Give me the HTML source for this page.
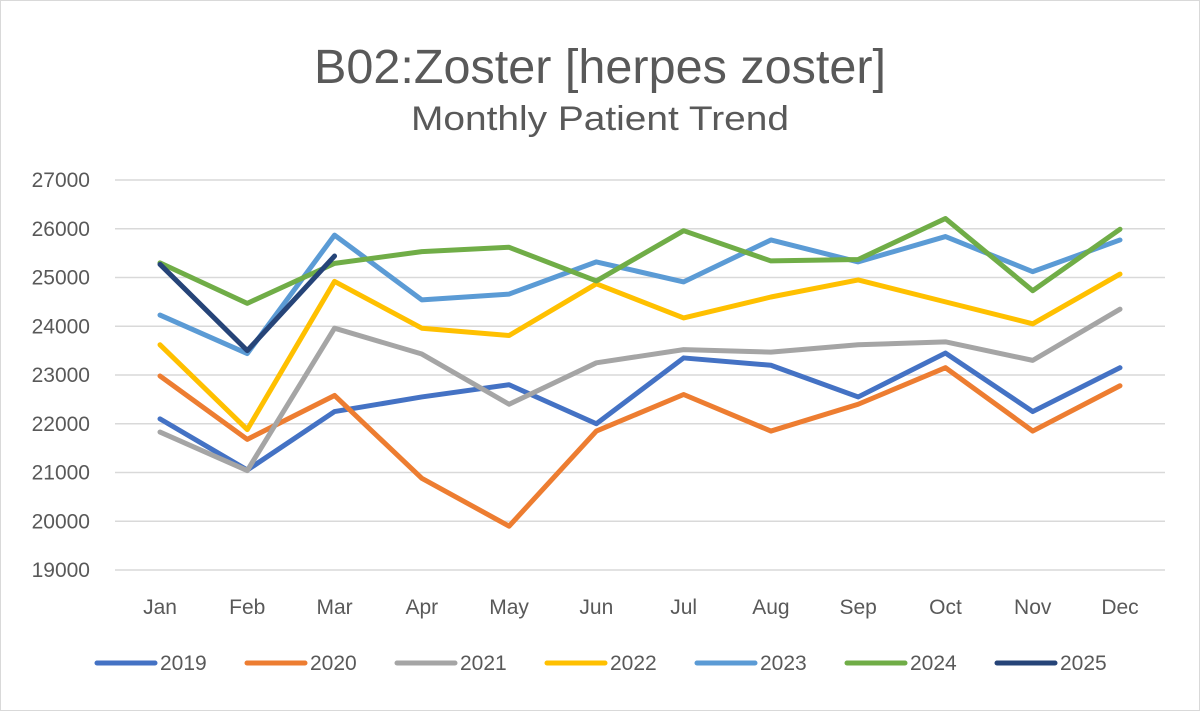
<!DOCTYPE html>
<html><head><meta charset="utf-8"><style>
body{margin:0;background:#fff;font-family:"Liberation Sans",sans-serif;}
svg text{font-family:"Liberation Sans",sans-serif;fill:#595959;}
</style></head><body>
<svg id="chart" width="1200" height="711" viewBox="0 0 1200 711" xmlns="http://www.w3.org/2000/svg">
<rect x="0.5" y="0.5" width="1199" height="710" fill="#fff" stroke="#d9d9d9"/>
<text x="600" y="83" font-size="48" text-anchor="middle" textLength="572" lengthAdjust="spacingAndGlyphs">B02:Zoster [herpes zoster]</text>
<text x="600" y="130" font-size="34" text-anchor="middle" textLength="378" lengthAdjust="spacingAndGlyphs">Monthly Patient Trend</text>
<g id="grid"></g><g id="series"></g><g id="legend"></g>
</svg>
<script>
const months=["Jan","Feb","Mar","Apr","May","Jun","Jul","Aug","Sep","Oct","Nov","Dec"];
const yTicks=[19000,20000,21000,22000,23000,24000,25000,26000,27000];
const years=["2019","2020","2021","2022","2023","2024","2025"];
const colors=["#4472c4","#ed7d31","#a5a5a5","#ffc000","#5b9bd5","#70ad47","#264478"];
const s2019=[22100,21050,22250,22550,22800,22000,23350,23200,22550,23450,22250,23150];
const s2020=[22980,21680,22580,20880,19900,21850,22600,21850,22400,23150,21850,22780];
const s2021=[21830,21040,23960,23430,22400,23250,23520,23470,23620,23680,23300,24350];
const s2022=[23620,21880,24920,23960,23810,24870,24170,24600,24950,24500,24050,25070];
const s2023=[24230,23440,25870,24540,24660,25320,24910,25770,25320,25840,25120,25770];
const s2024=[25300,24470,25290,25530,25620,24930,25960,25340,25370,26210,24730,25990];
const s2025=[25270,23500,25440];
const series=[s2019,s2020,s2021,s2022,s2023,s2024,s2025];
const NS="http://www.w3.org/2000/svg";
const x=i=>160+i*(960/11);
const y=v=>570-(v-19000)*(390/8000);
function mk(t,a,p){const e=document.createElementNS(NS,t);for(const k in a)e.setAttribute(k,a[k]);p.appendChild(e);return e;}
const g=document.getElementById('grid');
yTicks.forEach(v=>{
 const l=mk('line',{x1:115,x2:1165,y1:y(v),y2:y(v),stroke:'#d9d9d9','stroke-width':1.5},g);
 
 
 const t=mk('text',{x:90,y:y(v)+7,'font-size':21,'text-anchor':'end'},g);t.textContent=v;
 
 
});
months.forEach((m,i)=>{
 const t=mk('text',{x:x(i),y:614,'font-size':21,'text-anchor':'middle'},g);t.textContent=m;
 
 
});
const sg=document.getElementById('series');
series.forEach((s,k)=>{
 const p=mk('polyline',{points:s.map((v,i)=>x(i)+','+y(v)).join(' '),fill:'none',stroke:colors[k],'stroke-width':5,'stroke-linejoin':'round','stroke-linecap':'round'},sg);
 
 
});
const lg=document.getElementById('legend');
years.forEach((yr,k)=>{
 const gx=97+k*150;
 const e=mk('g',{},lg);
 
 
 mk('line',{x1:gx,x2:gx+58,y1:663,y2:663,stroke:colors[k],'stroke-width':5,'stroke-linecap':'round'},e);
 const t=mk('text',{x:gx+63,y:670,'font-size':21},e);t.textContent=yr;
});
</script>
</body></html>
